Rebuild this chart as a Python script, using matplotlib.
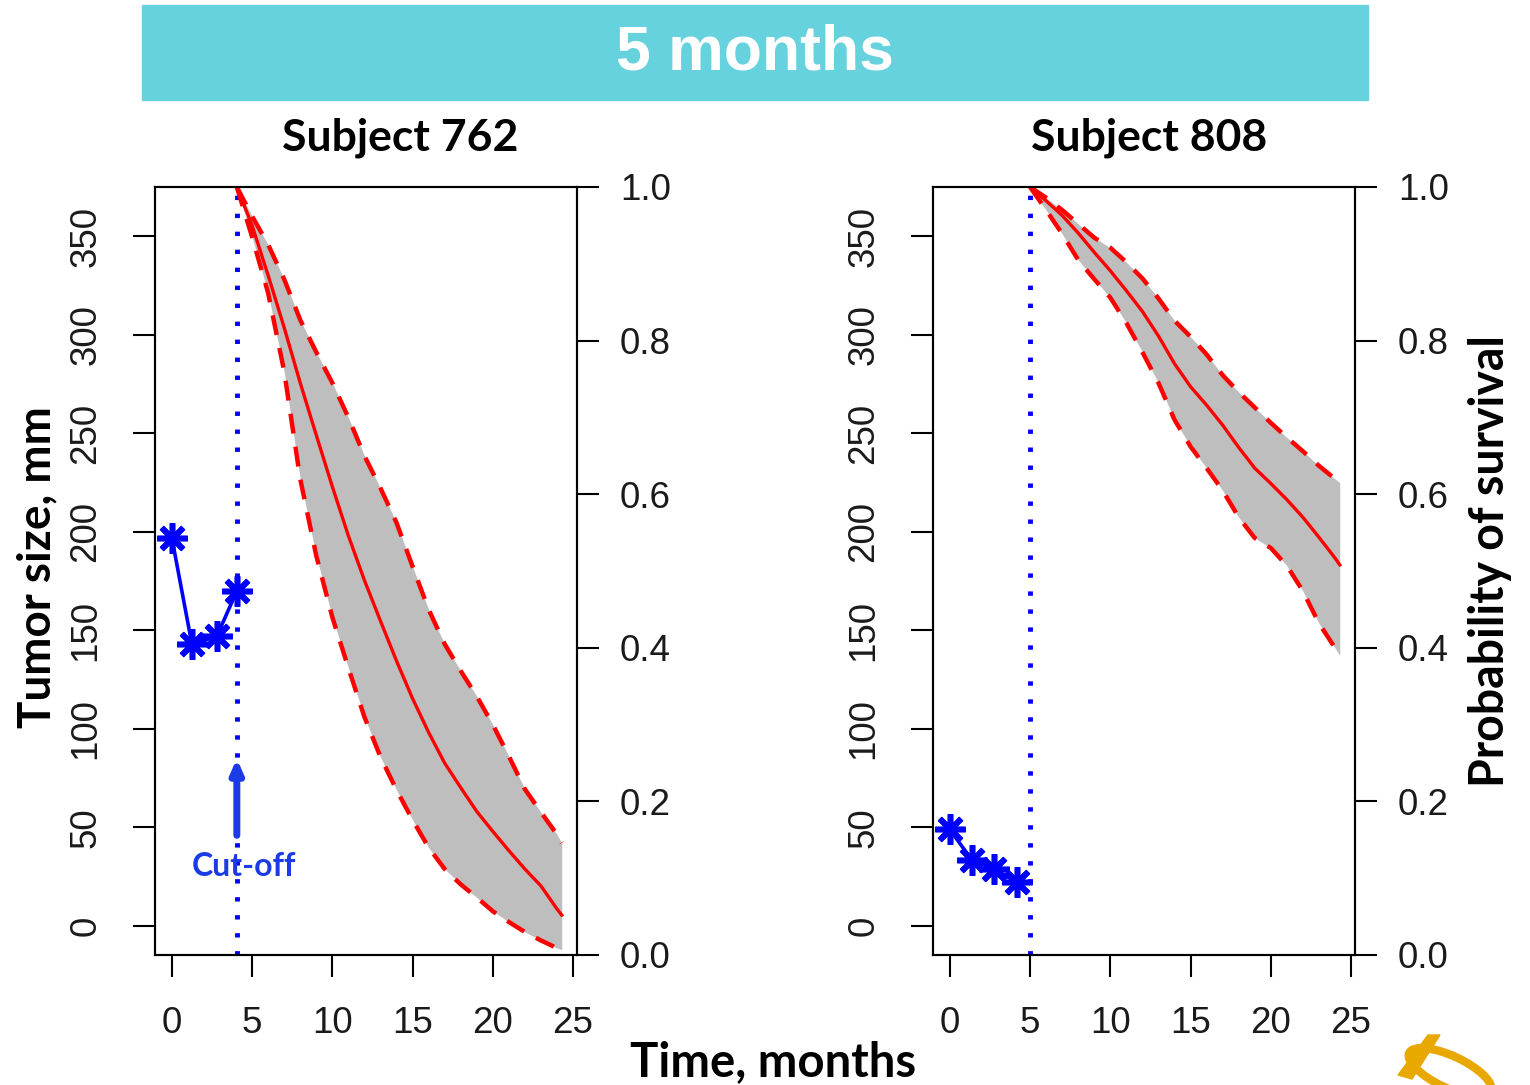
import matplotlib
matplotlib.use("Agg")
import matplotlib.pyplot as plt
from matplotlib.patches import Rectangle, Ellipse, Polygon

# ---- data ----
# Subject 762: observed tumor sizes and predicted survival after cut-off
obs_t_762 = [0, 1.25, 2.8, 4.05]
obs_size_762 = [197, 143, 147, 170]
cutoff_762 = 4.05
grid_762 = [4.05, 5, 6, 7, 8, 9, 10, 11, 12, 13, 14, 15, 16, 17, 18, 19, 20, 21, 22, 23, 24, 24.3]
med_762 = [1.0, 0.95, 0.885, 0.817, 0.745, 0.677, 0.610, 0.546, 0.488, 0.435, 0.383, 0.334,
           0.290, 0.250, 0.218, 0.187, 0.161, 0.136, 0.112, 0.090, 0.060, 0.052]
hi_762 = [1.0, 0.962, 0.925, 0.880, 0.827, 0.785, 0.745, 0.700, 0.650, 0.608, 0.563, 0.506,
          0.450, 0.405, 0.370, 0.337, 0.300, 0.259, 0.216, 0.186, 0.157, 0.146]
lo_762 = [1.0, 0.935, 0.862, 0.760, 0.620, 0.520, 0.440, 0.374, 0.310, 0.258, 0.215, 0.176,
          0.140, 0.112, 0.092, 0.075, 0.057, 0.043, 0.030, 0.019, 0.009, 0.007]

# Subject 808
obs_t_808 = [0, 1.37, 2.74, 4.17]
obs_size_808 = [49, 33.5, 29, 22.3]
cutoff_808 = 5.0
grid_808 = [5, 6, 7, 8, 9, 10, 11, 12, 13, 14, 15, 16, 17, 18, 19, 20, 21, 22, 23, 24, 24.3]
med_808 = [1.0, 0.982, 0.963, 0.940, 0.915, 0.891, 0.865, 0.838, 0.806, 0.770, 0.740,
           0.716, 0.690, 0.661, 0.634, 0.614, 0.593, 0.570, 0.544, 0.517, 0.508]
hi_808 = [1.0, 0.986, 0.970, 0.952, 0.934, 0.921, 0.902, 0.881, 0.855, 0.826, 0.805,
          0.782, 0.755, 0.733, 0.713, 0.693, 0.674, 0.656, 0.637, 0.620, 0.615]
lo_808 = [1.0, 0.970, 0.939, 0.905, 0.880, 0.856, 0.823, 0.785, 0.745, 0.697, 0.662,
          0.634, 0.605, 0.570, 0.543, 0.530, 0.507, 0.474, 0.432, 0.400, 0.390]

x_ticks = [0, 5, 10, 15, 20, 25]
size_ticks = [0, 50, 100, 150, 200, 250, 300, 350]
prob_ticks = [0.0, 0.2, 0.4, 0.6, 0.8, 1.0]

W, H = 1530, 1085
TICK_FONT = "Liberation Sans"
BOLD_FONT = "Lato"

fig = plt.figure(figsize=(W / 100, H / 100), dpi=100)


def fx(x):
    return x / W


def fy(y):
    return 1 - y / H


def draw_panel(left_px, t_obs, size_obs, cut, grid, med, lo, hi):
    rect = [fx(left_px), fy(955), 422 / W, 768 / H]
    ax = fig.add_axes(rect)
    ax.plot(t_obs, size_obs, color="blue", lw=2.6, marker=(8, 2, 0), ms=22, mew=4)
    ax.axvline(cut, color="blue", lw=3.5, ls=(0, (0.9, 2.8)))
    ax.set_xlim(-1.05, 25.25)
    ax.set_ylim(-14.7, 375)
    ax.set_xticks(x_ticks)
    ax.set_yticks(size_ticks)
    ax.tick_params(axis="x", length=16, width=1.5, pad=21, labelsize=26.5)
    ax.tick_params(axis="y", length=16, width=1.5, pad=21, labelsize=26.5, labelrotation=90)
    for lab in ax.get_yticklabels():
        lab.set_va("center")
    for lab in ax.get_xticklabels() + ax.get_yticklabels():
        lab.set_fontfamily(TICK_FONT)
        lab.set_color("#1a1a1a")
    for sp in ax.spines.values():
        sp.set_linewidth(1.5)

    ax2 = ax.twinx()
    ax2.set_ylim(0, 1)
    ax2.fill_between(grid, lo, hi, color="#BEBEBE", lw=0)
    ax2.plot(grid, med, color="red", lw=2.4)
    ax2.plot(grid, lo, color="red", lw=3.2, ls=(0, (4.5, 3)))
    ax2.plot(grid, hi, color="red", lw=3.2, ls=(0, (4.5, 3)))
    ax2.set_yticks(prob_ticks)
    ax2.set_yticklabels(["%.1f" % v for v in prob_ticks])
    ax2.tick_params(axis="y", length=16, width=1.5, pad=15, labelsize=26.5)
    for lab in ax2.get_yticklabels():
        lab.set_fontfamily(TICK_FONT)
        lab.set_color("#1a1a1a")
    for sp in ax2.spines.values():
        sp.set_linewidth(1.5)
    return ax, ax2


axL, axL2 = draw_panel(155, obs_t_762, obs_size_762, cutoff_762, grid_762, med_762, lo_762, hi_762)
axR, axR2 = draw_panel(933, obs_t_808, obs_size_808, cutoff_808, grid_808, med_808, lo_808, hi_808)

# cut-off arrow and label on the left panel
axL.annotate("", xy=(cutoff_762, 85), xytext=(cutoff_762, 46),
             arrowprops=dict(arrowstyle="-|>,head_length=0.8,head_width=0.35",
                             color="#1a3be6", lw=5, shrinkA=0, shrinkB=0))
axL.text(4.5, 30, "Cut-off", color="#1a3be6", fontsize=23, fontweight="bold",
         fontfamily=BOLD_FONT, ha="center", va="center")

# banner
fig.patches.append(Rectangle((fx(142), fy(100)), (1368 - 142) / W, 95 / H,
                             transform=fig.transFigure, color="#66D2DE", zorder=0))
fig.text(fx(755), fy(53), "5 months", color="white", fontsize=45, fontweight="bold",
         fontfamily="Liberation Sans", ha="center", va="center")

# titles and axis labels
fig.text(fx(400), fy(138), "Subject 762", fontsize=32, fontweight="bold",
         fontfamily=BOLD_FONT, ha="center", va="center")
fig.text(fx(1149), fy(138), "Subject 808", fontsize=32, fontweight="bold",
         fontfamily=BOLD_FONT, ha="center", va="center")
fig.text(fx(37), fy(567), "Tumor size, mm", fontsize=33, fontweight="bold",
         fontfamily=BOLD_FONT, rotation=90, ha="center", va="center")
fig.text(fx(1490), fy(561), "Probability of survival", fontsize=33.5, fontweight="bold",
         fontfamily=BOLD_FONT, rotation=90, ha="center", va="center")
fig.text(fx(773), fy(1062), "Time, months", fontsize=34, fontweight="bold",
         fontfamily=BOLD_FONT, ha="center", va="center")

# partial logo at the bottom right corner
logo = "#E8A800"
fig.patches.append(Ellipse((14.50, 0.13), 0.90, 0.32, angle=-25, fill=False,
                           edgecolor=logo, lw=6, transform=fig.dpi_scale_trans))
fig.patches.append(Polygon([(13.98, 0.10), (14.28, 0.50), (14.40, 0.50), (14.12, 0.06)],
                           closed=True, color=logo, transform=fig.dpi_scale_trans))

fig.savefig("out.png", dpi=100)
